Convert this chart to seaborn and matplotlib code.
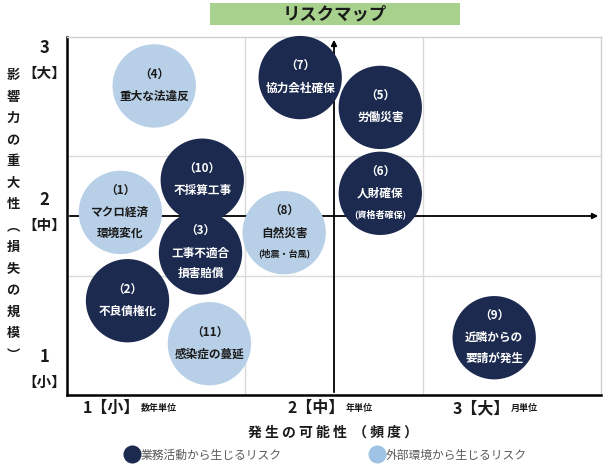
import numpy as np
import pandas as pd
import matplotlib
matplotlib.use("Agg")
import matplotlib.pyplot as plt
from matplotlib.lines import Line2D
from matplotlib.patches import Rectangle
import seaborn as sns

# データ
risk_no = ["1", "2", "3", "4", "5", "6", "7", "8", "9", "10", "11"]
likelihood = [0.80, 0.84, 1.25, 0.99, 2.26, 2.26, 1.81, 1.72, 2.90, 1.26, 1.30]
impact = [2.03, 1.29, 1.69, 3.09, 2.91, 2.19, 3.16, 1.86, 0.98, 2.30, 0.93]
kind = ["外部", "業務", "業務", "外部", "業務", "業務", "業務", "外部", "業務", "業務", "外部"]
labels = [
    ["マクロ経済", "環境変化"],
    ["不良債権化"],
    ["工事不適合", "損害賠償"],
    ["重大な法違反"],
    ["労働災害"],
    ["人財確保", "(資格者確保)"],
    ["協力会社確保"],
    ["自然災害", "(地震・台風)"],
    ["近隣からの", "要請が発生"],
    ["不採算工事"],
    ["感染症の蔓延"],
]
x_tick_main = ["1【小】", "2【中】", "3【大】"]
x_tick_sub = ["数年単位", "年単位", "月単位"]
y_tick_num = ["1", "2", "3"]
y_tick_br = ["【小】", "【中】", "【大】"]
legend_text = ["業務活動から生じるリスク", "外部環境から生じるリスク"]

dark = "#1c2a4f"
light = "#b7cfe7"
palette = {"業務": dark, "外部": light}

sns.set_style("white")
plt.rcParams["font.family"] = ["Noto Sans CJK JP", "DejaVu Sans"]

df = pd.DataFrame({"no": risk_no, "x": likelihood, "y": impact, "kind": kind})

fig = plt.figure(figsize=(6.05, 4.69), dpi=100)
ax = fig.add_axes([67 / 605, 74 / 469, 534 / 605, 358 / 469])
ax.set_xlim(0.5, 3.5)
ax.set_ylim(0.5, 3.5)

# グリッドと枠
for v in [1.5, 2.5]:
    ax.axvline(v, color="#d9d9d9", lw=1, zorder=0)
    ax.axhline(v, color="#d9d9d9", lw=1, zorder=0)
for side in ["top", "right"]:
    ax.spines[side].set_color("#d0d0d0")
    ax.spines[side].set_linewidth(1)
for side in ["left", "bottom"]:
    ax.spines[side].set_color("black")
    ax.spines[side].set_linewidth(1.8)
ax.set_xticks([])
ax.set_yticks([])

# 中央の矢印
ax.annotate("", xy=(2, 3.5), xytext=(2, 0.5),
            arrowprops=dict(arrowstyle="-|>", color="black", lw=1.3, mutation_scale=8), zorder=1)
ax.annotate("", xy=(3.5, 2), xytext=(0.5, 2),
            arrowprops=dict(arrowstyle="-|>", color="black", lw=1.3, mutation_scale=8), zorder=1)

sns.scatterplot(data=df, x="x", y="y", hue="kind", palette=palette, s=3600,
                linewidth=0, legend=False, ax=ax, zorder=3, clip_on=False)
ax.set_xlabel("")
ax.set_ylabel("")

# 円内の文字
for i, r in df.iterrows():
    lines = ["（" + r["no"] + "）"] + labels[i]
    col = "white" if r["kind"] == "業務" else "#1a1a1a"
    n = len(lines)
    offs = [8.5, -7.5] if n == 2 else [16, 0, -15]
    for j, t in enumerate(lines):
        fs = 6.5 if t.startswith("(") else 8.4
        ax.annotate(t, (r["x"], r["y"]), xytext=(0, offs[j]), textcoords="offset points",
                    ha="center", va="center", fontsize=fs, fontweight="bold", color=col,
                    zorder=4)

# 軸ラベル (x)
x_lab_pos = [0.127, 0.511, 0.820]
for xp, m, s in zip(x_lab_pos, x_tick_main, x_tick_sub):
    ax.annotate(m, (xp, 0), xycoords="axes fraction", xytext=(3.5, -9.5),
                textcoords="offset points", ha="right", va="center", fontsize=11.5,
                fontweight="bold", color="#1a1a1a", annotation_clip=False)
    ax.annotate(s, (xp, 0), xycoords="axes fraction", xytext=(4, -9.5),
                textcoords="offset points", ha="left", va="center", fontsize=6.5,
                fontweight="bold", color="#1a1a1a", annotation_clip=False)

# 軸ラベル (y)
y_pos = [0.71, 2.03, 3.30]
for yp, num, br in zip(y_pos, y_tick_num, y_tick_br):
    ax.annotate(num, (0.5, yp), xytext=(-16, 9), textcoords="offset points",
                ha="center", va="center", fontsize=12, fontweight="bold",
                color="#1a1a1a", annotation_clip=False)
    ax.annotate(br, (0.5, yp), xytext=(-16, -9), textcoords="offset points",
                ha="center", va="center", fontsize=10.5, fontweight="bold",
                color="#1a1a1a", annotation_clip=False)

ylab = "影響力の重大性︵損失の規模︶"
ys = np.linspace(75, 355, len(ylab))
for ch, yy in zip(ylab, ys):
    fig.text(13 / 605, 1 - yy / 469, ch, ha="center", va="center", fontsize=9.5,
             fontweight="bold", color="#1a1a1a")

fig.text(333 / 605, 1 - 433 / 469, "発 生 の 可 能 性  （ 頻 度 ）", ha="center", va="center",
         fontsize=10, fontweight="bold", color="#1a1a1a")

# タイトル
fig.patches.append(Rectangle((210 / 605, 1 - 25 / 469), 250 / 605, 22 / 469,
                             transform=fig.transFigure, facecolor="#a9d18e",
                             edgecolor="none"))
fig.text(335 / 605, 1 - 14 / 469, "リスクマップ", ha="center", va="center",
         fontsize=12.5, fontweight="bold", color="#1a1a1a")

# 凡例
handles = [Line2D([], [], marker="o", ls="", markersize=13, markerfacecolor=dark,
                  markeredgecolor="none"),
           Line2D([], [], marker="o", ls="", markersize=13, markerfacecolor="#9fc3e5",
                  markeredgecolor="none")]
leg = fig.legend(handles, legend_text, loc="center", bbox_to_anchor=(326 / 605, 1 - 455 / 469),
                 ncol=2, frameon=False, fontsize=8.5, handletextpad=0.1,
                 columnspacing=7.5, handlelength=1.2)
for t in leg.get_texts():
    t.set_color("#595959")

fig.savefig("out.png", dpi=100)
